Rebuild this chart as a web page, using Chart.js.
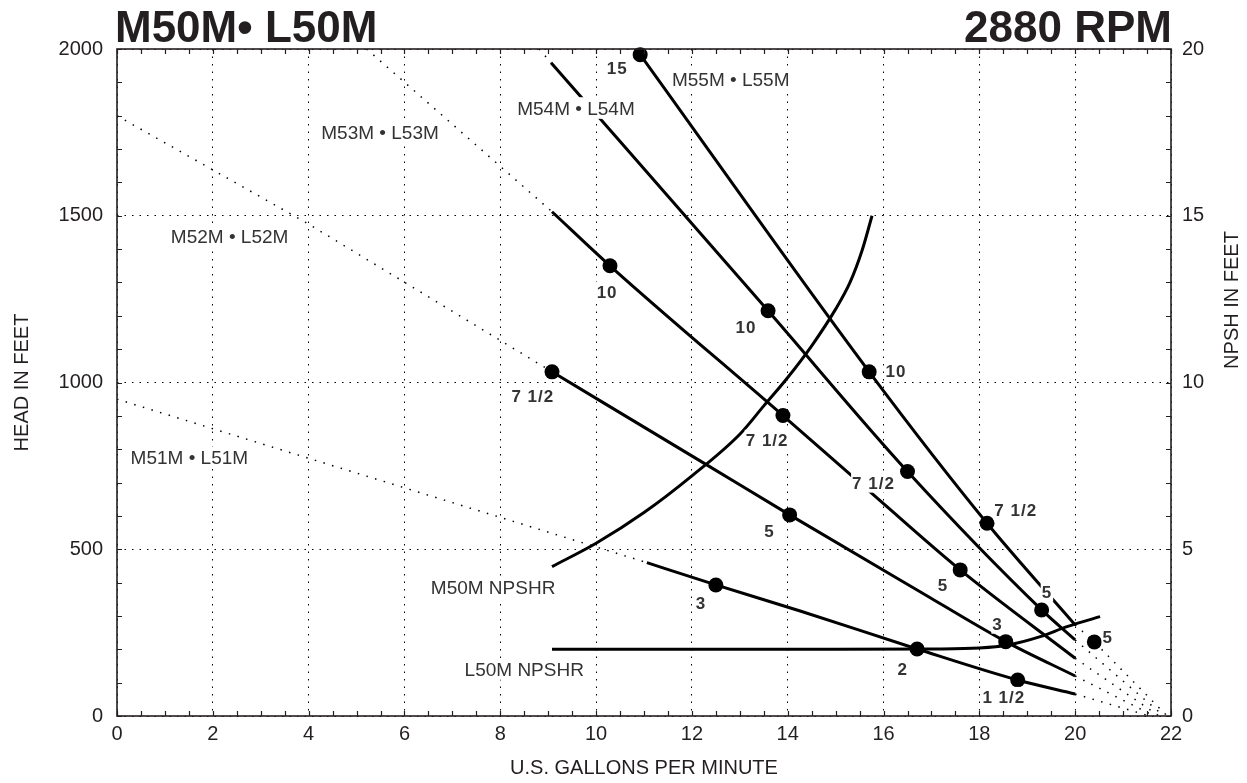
<!DOCTYPE html>
<html>
<head>
<meta charset="utf-8">
<script src="https://cdn.jsdelivr.net/npm/chart.js@4.4.0/dist/chart.umd.min.js"></script>
<style>
  html, body { margin: 0; padding: 0; background: #fff; }
  #wrap { width: 1247px; height: 783px; }
</style>
</head>
<body>
<div id="wrap"><canvas id="chart" width="1247" height="783"></canvas></div>
<script>
// Pump curves: [gpm, head ft]; NPSHR curves: [gpm, npsh ft]
const m51Curve = [[11.06, 460], [12.5, 393], [14.26, 315], [16.7, 201], [18.8, 108], [20, 66]];
const m52Curve = [[9.08, 1032], [12.31, 753], [14.04, 603], [16.7, 378], [18.55, 223], [20, 120]];
const m53Curve = [[9.08, 1512], [10.29, 1350], [13.9, 901], [15.5, 700], [17.6, 438], [20, 173]];
const m54Curve = [[9.06, 1959], [13.59, 1215], [16.5, 733], [19.3, 318], [20, 228]];
const m55Curve = [[10.92, 1983], [15.7, 1032], [18.16, 578], [20, 273]];

// dotted extensions beyond the usable range
const m51Ext = [[[0, 950], [11.06, 460]], [[20, 66], [21.55, 0]]];
const m52Ext = [[[0, 1800], [4, 1475], [9.08, 1032]], [[20, 120], [21.65, 0]]];
const m53Ext = [[[5.21, 2000], [9.08, 1512]], [[20, 173], [21.75, 0]]];
const m54Ext = [[[8.81, 2000], [9.06, 1959]], [[20, 228], [21.85, 0]]];
const m55Ext = [[[20, 273], [20.4, 222], [21.92, 0]]];

// motor HP points
const m51Hp = [[12.5, 393], [16.7, 201], [18.8, 108]];
const m52Hp = [[9.08, 1032], [14.04, 603], [18.55, 223]];
const m53Hp = [[10.29, 1350], [13.9, 901], [17.6, 438]];
const m54Hp = [[13.59, 1215], [16.5, 733], [19.3, 318]];
const m55Hp = [[10.92, 1983], [15.7, 1032], [18.16, 578], [20.4, 222]];

const m50Npshr = [[9.08, 4.48], [10, 5.18], [11, 6.1], [12, 7.2], [13, 8.45], [13.5, 9.3], [14, 10.15], [14.5, 11.1], [15, 12.2], [15.3, 13.0], [15.55, 13.95], [15.76, 15.0]];
const l50Npshr = [[9.08, 2.0], [12, 2.0], [15, 2.0], [17, 2.01], [18, 2.04], [18.6, 2.13], [19.27, 2.38], [19.83, 2.68], [20.52, 2.98]];

const xTicks = [0, 2, 4, 6, 8, 10, 12, 14, 16, 18, 20, 22];
const headTicks = [0, 500, 1000, 1500, 2000];
const npshTicks = [0, 5, 10, 15, 20];

// text labels anchored in data units [text, gpm, head]
const modelLabels = [
  ['M55M • L55M', 12.81, 1910], ['M54M • L54M', 9.58, 1823], ['M53M • L53M', 5.49, 1751],
  ['M52M • L52M', 2.35, 1439], ['M51M • L51M', 1.51, 775],
  ['M50M NPSHR', 7.85, 385], ['L50M NPSHR', 8.5, 141]
];
const hpLabels = [
  ['15', 10.44, 1944], ['10', 10.23, 1271], ['10', 13.13, 1168], ['10', 16.26, 1034],
  ['7 1/2', 8.68, 961], ['7 1/2', 13.57, 828], ['7 1/2', 15.79, 700], ['7 1/2', 18.76, 618],
  ['5', 13.62, 556], ['5', 17.24, 393], ['5', 19.41, 373], ['5', 20.68, 238],
  ['3', 12.19, 340], ['3', 18.38, 277], ['2', 16.4, 142], ['1 1/2', 18.51, 57]
];

const ink = '#231f20';
const family = "'Liberation Sans', Arial, Helvetica, sans-serif";
Chart.defaults.font.family = family;
Chart.defaults.color = ink;

const xy = pts => pts.map(([x, y]) => ({ x, y }));

function solid(pts, axis) {
  return { data: xy(pts), yAxisID: axis || 'y', showLine: true, borderColor: '#000', borderWidth: 3,
    pointRadius: 0, cubicInterpolationMode: 'monotone', order: 2 };
}
function dotted(pts) {
  return { data: xy(pts), showLine: true, borderColor: '#000', borderWidth: 1.5, borderDash: [1.5, 7.5],
    pointRadius: 0, order: 3 };
}
function dots(pts) {
  return { data: xy(pts), showLine: false, pointRadius: 7.5, pointBackgroundColor: '#000',
    pointBorderWidth: 0, clip: false, order: 1 };
}

const datasets = [];
[m51Ext, m52Ext, m53Ext, m54Ext, m55Ext].forEach(ext => ext.forEach(seg => datasets.push(dotted(seg))));
[m51Curve, m52Curve, m53Curve, m54Curve, m55Curve].forEach(c => datasets.push(solid(c)));
datasets.push(solid(m50Npshr, 'y2'), solid(l50Npshr, 'y2'));
[m51Hp, m52Hp, m53Hp, m54Hp, m55Hp].forEach(h => datasets.push(dots(h)));

function fixBox(size, key) {
  return s => {
    s[key] = size;
    s.paddingTop = 0; s.paddingBottom = 0; s.paddingLeft = 0; s.paddingRight = 0;
  };
}

function drawLabel(ctx, text, px, py, font, size, spacing, padX) {
  ctx.font = font;
  ctx.letterSpacing = spacing;
  const w = ctx.measureText(text).width;
  const cap = size * 0.716;
  ctx.fillStyle = '#fff';
  ctx.fillRect(px - w / 2 - padX, py - cap / 2 - 4, w + padX * 2, cap + 8);
  ctx.fillStyle = '#333';
  ctx.textAlign = 'center';
  ctx.textBaseline = 'alphabetic';
  ctx.fillText(text, px, py + cap / 2);
}

const extras = {
  id: 'extras',
  afterDatasetsDraw(chart) {
    const { ctx, chartArea: a, scales: { x, y, y2 } } = chart;
    ctx.save();

    modelLabels.forEach(([t, gx, gy]) =>
      drawLabel(ctx, t, x.getPixelForValue(gx), y.getPixelForValue(gy), `19px ${family}`, 19, '0px', 3));
    hpLabels.forEach(([t, gx, gy]) =>
      drawLabel(ctx, t, x.getPixelForValue(gx), y.getPixelForValue(gy), `bold 17px ${family}`, 17, '1px', 1));
    ctx.letterSpacing = '0px';

    // minor ticks pointing inward
    ctx.strokeStyle = ink;
    ctx.lineWidth = 1.2;
    ctx.beginPath();
    for (let v = 0; v <= 22; v += 0.5) {
      const p = Math.round(x.getPixelForValue(v)) + 0.5;
      ctx.moveTo(p, a.bottom); ctx.lineTo(p, a.bottom - 5);
      ctx.moveTo(p, a.top); ctx.lineTo(p, a.top + 5);
    }
    for (let v = 0; v <= 2000; v += 100) {
      const p = Math.round(y.getPixelForValue(v)) + 0.5;
      ctx.moveTo(a.left, p); ctx.lineTo(a.left + 5, p);
    }
    for (let v = 0; v <= 20; v += 1) {
      const p = Math.round(y2.getPixelForValue(v)) + 0.5;
      ctx.moveTo(a.right, p); ctx.lineTo(a.right - 5, p);
    }
    ctx.stroke();

    ctx.lineWidth = 1.6;
    ctx.strokeRect(a.left, a.top, a.right - a.left, a.bottom - a.top);

    // headline
    ctx.fillStyle = ink;
    ctx.font = `bold 44px ${family}`;
    ctx.textBaseline = 'alphabetic';
    ctx.textAlign = 'left';
    ctx.fillText('M50M• L50M', a.left - 2, 42);
    ctx.textAlign = 'right';
    ctx.fillText('2880 RPM', a.right + 1, 42);

    // right axis title, reading bottom to top
    ctx.font = `20px ${family}`;
    ctx.translate(1232, 300);
    ctx.rotate(-Math.PI / 2);
    ctx.textAlign = 'center';
    ctx.textBaseline = 'middle';
    ctx.fillText('NPSH IN FEET', 0, 0);
    ctx.restore();
  }
};

const gridDots = { color: '#000', lineWidth: 1, drawTicks: false };
const plain = v => String(v);

new Chart(document.getElementById('chart'), {
  type: 'scatter',
  data: { datasets },
  options: {
    responsive: false,
    animation: false,
    devicePixelRatio: 1,
    events: [],
    layout: { padding: { top: 49, left: 0, right: 0, bottom: 0 } },
    plugins: { legend: { display: false }, tooltip: { enabled: false } },
    scales: {
      x: {
        type: 'linear', min: 0, max: 22,
        afterBuildTicks: s => { s.ticks = xTicks.map(value => ({ value })); },
        afterFit: fixBox(67, 'height'),
        grid: gridDots,
        border: { display: false, dash: [1.5, 6] },
        ticks: { font: { size: 20 }, padding: 6, color: ink, maxRotation: 0, callback: plain },
        title: { display: true, text: 'U.S. GALLONS PER MINUTE', font: { size: 20 }, color: ink, padding: { top: 0, bottom: 3 } }
      },
      y: {
        type: 'linear', min: 0, max: 2000, position: 'left',
        afterBuildTicks: s => { s.ticks = headTicks.map(value => ({ value })); },
        afterFit: fixBox(117, 'width'),
        grid: gridDots,
        border: { display: false, dash: [1.5, 6] },
        ticks: { font: { size: 20 }, padding: 14, color: ink, callback: plain },
        title: { display: true, text: 'HEAD IN FEET', font: { size: 20 }, color: ink, padding: { top: 10, bottom: 0 } }
      },
      y2: {
        type: 'linear', min: 0, max: 20, position: 'right',
        afterBuildTicks: s => { s.ticks = npshTicks.map(value => ({ value })); },
        afterFit: fixBox(76, 'width'),
        grid: { display: false, drawTicks: false },
        border: { display: false },
        ticks: { font: { size: 20 }, padding: 11, color: ink, callback: plain }
      }
    }
  },
  plugins: [extras]
});
</script>
</body>
</html>
